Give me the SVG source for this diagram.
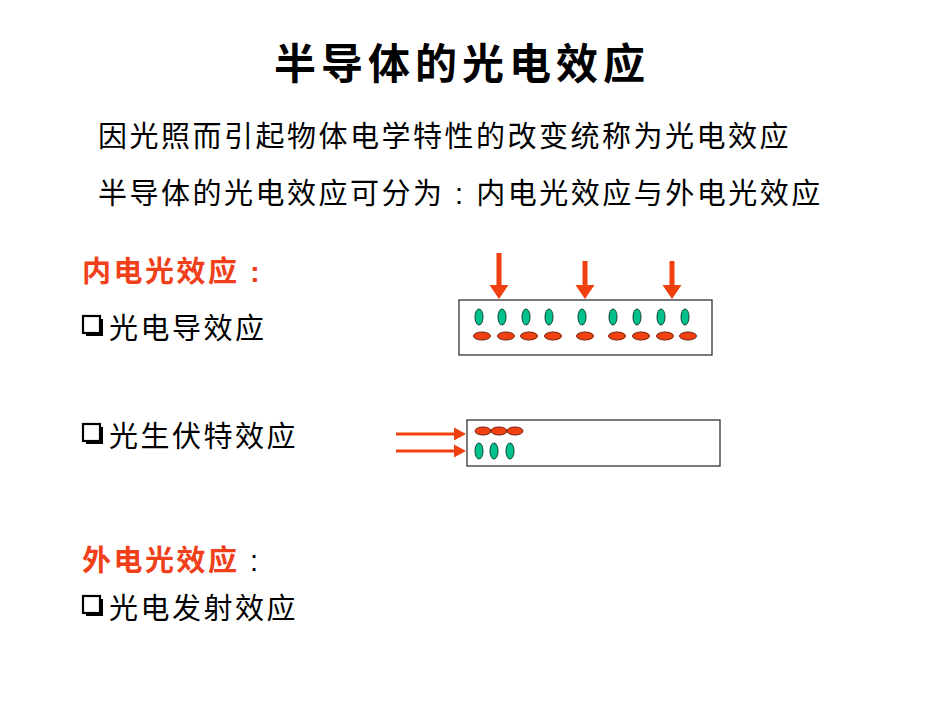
<svg xmlns="http://www.w3.org/2000/svg" width="950" height="713" viewBox="0 0 950 713">
<style>
text{font-family:"Liberation Sans","Noto Sans CJK SC",sans-serif;font-size:29px;letter-spacing:2.5px;fill:#000}
.t{font-size:42px;font-weight:bold;letter-spacing:5px}
.r{fill:#f0401a}
.g{fill:#00c08c;stroke:#114433;stroke-width:1}
.e{fill:#f04010;stroke:#702010;stroke-width:1}
.box{fill:#fff;stroke:#333;stroke-width:1.3}
.cb{fill:#fff;stroke:#000;stroke-width:2.2}
</style>
<defs>
<g id="chk"><rect x="3" y="3" width="17" height="17" fill="#000"/><rect x="0" y="0" width="17" height="17" class="cb"/></g>
</defs>
<rect width="950" height="713" fill="#fff"/>
<text class="t" x="462" y="79" text-anchor="middle">半导体的光电效应</text>
<text x="98" y="147">因光照而引起物体电学特性的改变统称为光电效应</text>
<text x="98" y="204">半导体的光电效应可分为 : 内电光效应与外电光效应</text>
<text class="r" x="82" y="282" font-weight="bold">内电光效应 :</text>
<use href="#chk" x="83" y="316"/><text x="109" y="339">光电导效应</text>
<use href="#chk" x="83" y="424"/><text x="109" y="447">光生伏特效应</text>
<text x="82" y="571"><tspan class="r" font-weight="bold">外电光效应</tspan> :</text>
<use href="#chk" x="83" y="596"/><text x="109" y="619">光电发射效应</text>
<g id="n1">
<rect class="box" x="459" y="300" width="253" height="55"/>
<g class="g"><ellipse cx="479" cy="317" rx="4" ry="8"/><ellipse cx="502" cy="317" rx="4" ry="8"/><ellipse cx="526" cy="317" rx="4" ry="8"/><ellipse cx="549" cy="317" rx="4" ry="8"/><ellipse cx="582" cy="317" rx="4" ry="8"/><ellipse cx="613" cy="317" rx="4" ry="8"/><ellipse cx="637" cy="317" rx="4" ry="8"/><ellipse cx="661" cy="317" rx="4" ry="8"/><ellipse cx="685" cy="317" rx="4" ry="8"/></g>
<g class="e"><ellipse cx="482" cy="336" rx="8.5" ry="4"/><ellipse cx="506" cy="336" rx="8.5" ry="4"/><ellipse cx="529" cy="336" rx="8.5" ry="4"/><ellipse cx="553" cy="336" rx="8.5" ry="4"/><ellipse cx="585" cy="336" rx="8.5" ry="4"/><ellipse cx="617" cy="336" rx="8.5" ry="4"/><ellipse cx="641" cy="336" rx="8.5" ry="4"/><ellipse cx="665" cy="336" rx="8.5" ry="4"/><ellipse cx="688" cy="336" rx="8.5" ry="4"/></g>
</g>
<g id="n2">
<rect class="box" x="467" y="420" width="253" height="46"/>
<g class="e"><ellipse cx="483" cy="431" rx="8" ry="4"/><ellipse cx="499" cy="431" rx="8" ry="4"/><ellipse cx="515" cy="431" rx="8" ry="4"/></g>
<g class="g"><ellipse cx="479" cy="451" rx="4" ry="8"/><ellipse cx="494" cy="451" rx="4" ry="8"/><ellipse cx="510" cy="451" rx="4" ry="8"/></g>
</g>
<g id="connectors" fill="#f04010">
<path d="M496.5,253h5v32h7l-9.5,14l-9.5,-14h7z"/>
<path d="M582.5,261h5v24h7l-9.5,14l-9.5,-14h7z"/>
<path d="M669.5,261h5v24h7l-9.5,14l-9.5,-14h7z"/>
<path d="M396,432.5h58v-5l12,6.5l-12,6.5v-5h-58z"/>
<path d="M396,449.5h58v-5l12,6.5l-12,6.5v-5h-58z"/>
</g>
</svg>
